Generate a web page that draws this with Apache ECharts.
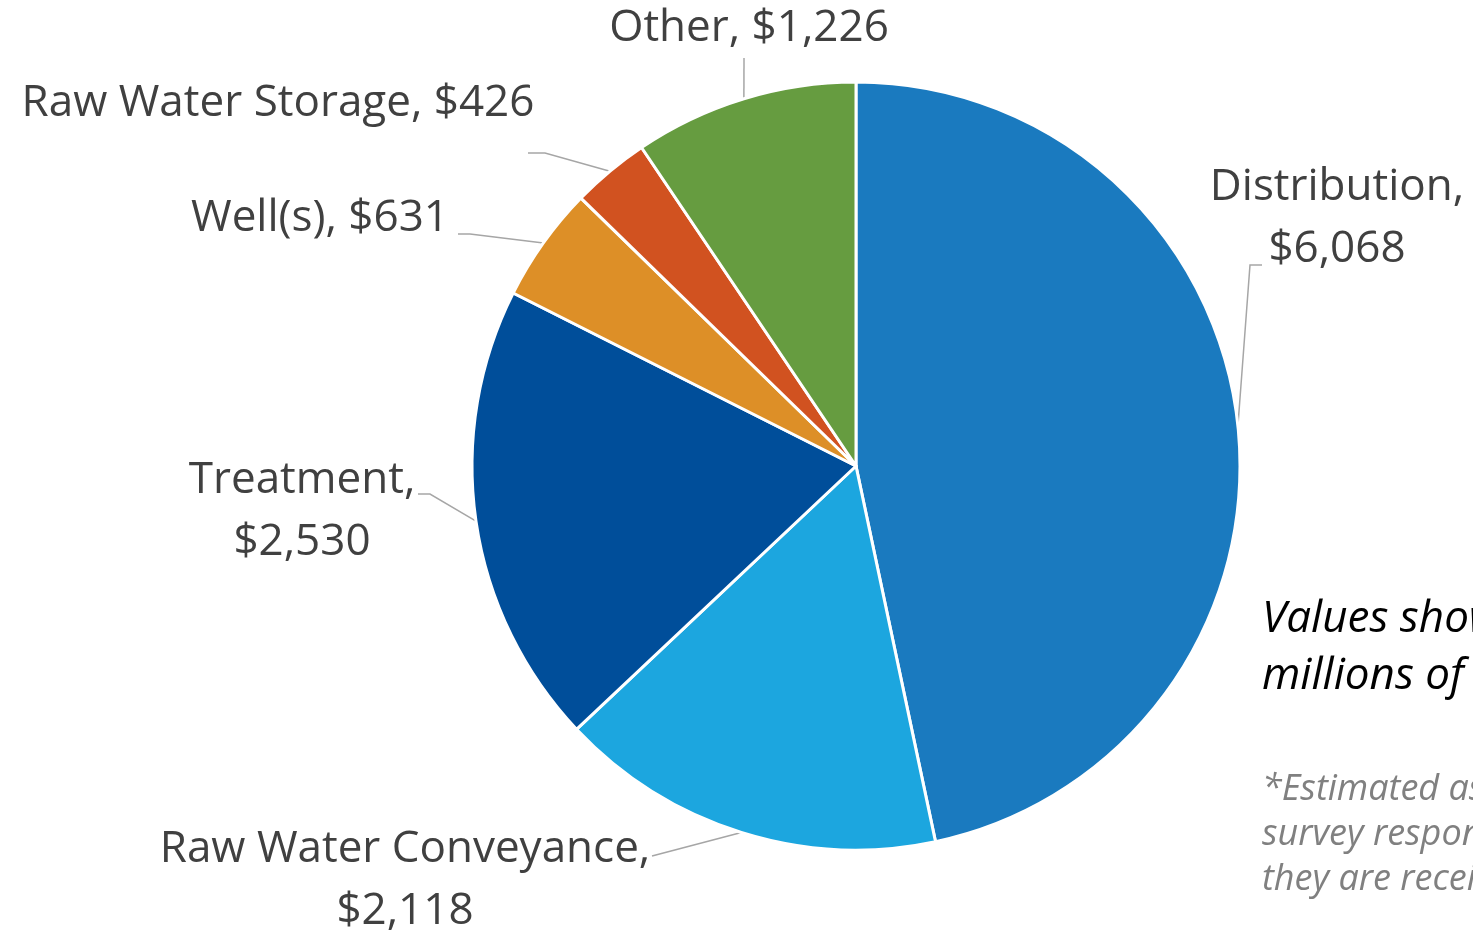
<!DOCTYPE html>
<html>
<head>
<meta charset="utf-8">
<script src="https://cdn.jsdelivr.net/npm/echarts@6/dist/echarts.min.js"></script>
<style>
html,body{margin:0;padding:0;background:#fff;overflow:hidden;}
#chart{width:1473px;height:934px;}
</style>
</head>
<body>
<div id="chart"></div>
<script>
// Data
const categories = ['Distribution', 'Raw Water Conveyance', 'Treatment', 'Well(s)', 'Raw Water Storage', 'Other'];
const values = [6068, 2118, 2530, 631, 426, 1226];
const colors = ['#1a7abf', '#1ca6df', '#004e9a', '#dd8f27', '#d15220', '#669c40'];
const wrapped = ['Distribution', 'Treatment', 'Raw Water Conveyance'];
const noteText = 'Values shown in\nmillions of dollars';
const footText = '*Estimated as reported in\nsurvey responses, as\nthey are received';

// Label placement (layout only)
const labelPlace = [
  {x: 1337, y: 218, bend: [[1250, 265], [1262, 265]]},
  {x: 405, y: 880, bend: [[652, 856]]},
  {x: 302, y: 511, bend: [[430, 494], [418, 494]]},
  {x: 320, y: 218, bend: [[470, 234], [458, 234]]},
  {x: 278, y: 103, bend: [[545, 153], [528, 153]]},
  {x: 749, y: 28, bend: [[744, 58]]}
];

const chart = echarts.init(document.getElementById('chart'));
const font = '"Open Sans", "Noto Sans", sans-serif';

chart.setOption({
  animation: false,
  color: colors,
  series: [{
    type: 'pie',
    center: [856, 466],
    radius: 384,
    startAngle: 90,
    clockwise: true,
    avoidLabelOverlap: false,
    itemStyle: {borderColor: '#fff', borderWidth: 3},
    data: categories.map((c, i) => ({name: c, value: values[i]})),
    label: {
      show: true,
      position: 'outside',
      color: '#404040',
      fontFamily: font,
      fontSize: 44,
      lineHeight: 62,
      align: 'center',
      formatter: p => p.name + ',' + (wrapped.includes(p.name) ? '\n' : ' ') + '$' + p.value.toLocaleString('en-US')
    },
    labelLine: {
      show: true,
      length: 10,
      length2: 10,
      smooth: false,
      lineStyle: {color: '#a6a6a6', width: 1.5}
    },
    labelLayout: function (params) {
      const pl = labelPlace[params.dataIndex];
      let start = params.labelLinePoints ? params.labelLinePoints[0] : null;
      if (!start) {
        const total = values.reduce((a, b) => a + b, 0);
        let acc = 0;
        for (let k = 0; k < params.dataIndex; k++) acc += values[k];
        const mid = (acc + values[params.dataIndex] / 2) / total * 2 * Math.PI;
        start = [856 + 384 * Math.sin(mid), 466 - 384 * Math.cos(mid)];
      }
      return {
        x: pl.x,
        y: pl.y,
        align: 'center',
        verticalAlign: 'middle',
        labelLinePoints: [start].concat(pl.bend)
      };
    },
    emphasis: {disabled: true}
  }],
  graphic: [
    {
      type: 'text',
      left: 1262,
      top: 591,
      style: {
        text: noteText,
        fill: '#000',
        font: 'italic 44px ' + font,
        lineHeight: 57
      }
    },
    {
      type: 'text',
      left: 1262,
      top: 767,
      style: {
        text: footText,
        fill: '#808080',
        font: 'italic 36px ' + font,
        lineHeight: 45
      }
    }
  ]
});
</script>
</body>
</html>
